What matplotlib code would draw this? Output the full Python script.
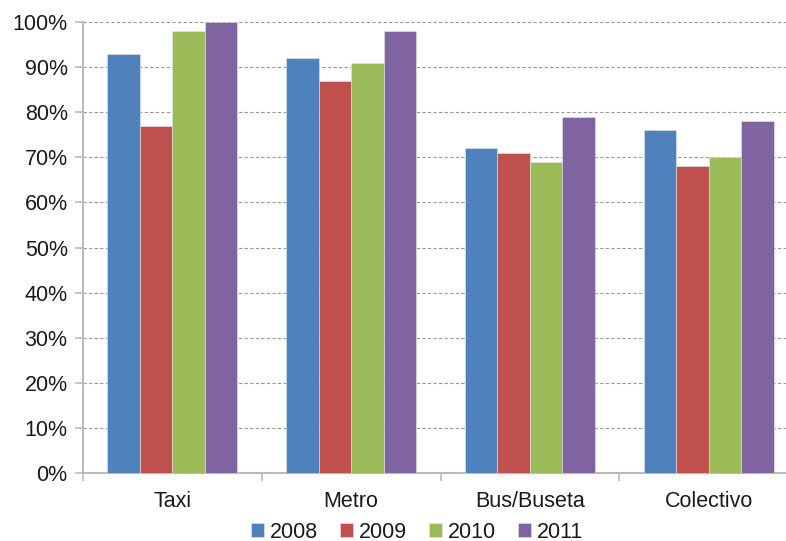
import matplotlib
matplotlib.use("Agg")
import matplotlib.pyplot as plt
from matplotlib.ticker import PercentFormatter
import numpy as np

# data
categories = ["Taxi", "Metro", "Bus/Buseta", "Colectivo"]
years = ["2008", "2009", "2010", "2011"]
v2008 = [93, 92, 72, 76]
v2009 = [77, 87, 71, 68]
v2010 = [98, 91, 69, 70]
v2011 = [100, 98, 79, 78]

series = [v2008, v2009, v2010, v2011]
colors = ["#4F81BD", "#C0504D", "#9BBB59", "#8064A2"]

plt.rcParams["font.family"] = ["Liberation Sans", "DejaVu Sans"]

fig = plt.figure(figsize=(7.86, 5.41), dpi=100)
# axes right edge runs a little past the picture, as in the original
ax = fig.add_axes([83 / 786, 1 - 473 / 541, 715 / 786, 451 / 541])

x = np.arange(len(categories))
w = 0.182
for i, (vals, col, yr) in enumerate(zip(series, colors, years)):
    ax.bar(x + (i - 1.5) * w, vals, width=w, color=col, label=yr,
           edgecolor="#E8E8E8", linewidth=0.4, zorder=3)

ax.set_ylim(0, 100)
ax.set_xlim(-0.5, len(categories) - 0.5)
ax.set_yticks(np.arange(0, 101, 10))
ax.yaxis.set_major_formatter(PercentFormatter(decimals=0))
ax.grid(axis="y", color="#999999", linestyle=(0, (3, 2)), linewidth=0.8, zorder=0)

# category ticks sit between groups
ax.set_xticks(np.arange(-0.5, len(categories), 1.0))
ax.set_xticklabels([])
ax.set_xticks(x, minor=True)
ax.set_xticklabels(categories, minor=True)
ax.tick_params(axis="x", which="minor", length=0, pad=13, labelsize=15.5, labelcolor="#1A1A1A")
ax.tick_params(axis="x", which="major", length=6, width=1.2, color="#BBBBBB", direction="out")
ax.tick_params(axis="y", length=6, width=1.2, color="#BBBBBB", labelsize=15.5,
               labelcolor="#1A1A1A", pad=5)

for s in ["top", "right"]:
    ax.spines[s].set_visible(False)
for s in ["left", "bottom"]:
    ax.spines[s].set_color("#BBBBBB")
    ax.spines[s].set_linewidth(1.5)

leg = fig.legend(loc="center", bbox_to_anchor=(417 / 786, 1 - 532 / 541), ncol=4,
                 frameon=False, fontsize=15.5, handlelength=0.6, handleheight=0.6,
                 handletextpad=0.3, columnspacing=1.0)
for t in leg.get_texts():
    t.set_color("#1A1A1A")

fig.savefig("out.png", dpi=100)
